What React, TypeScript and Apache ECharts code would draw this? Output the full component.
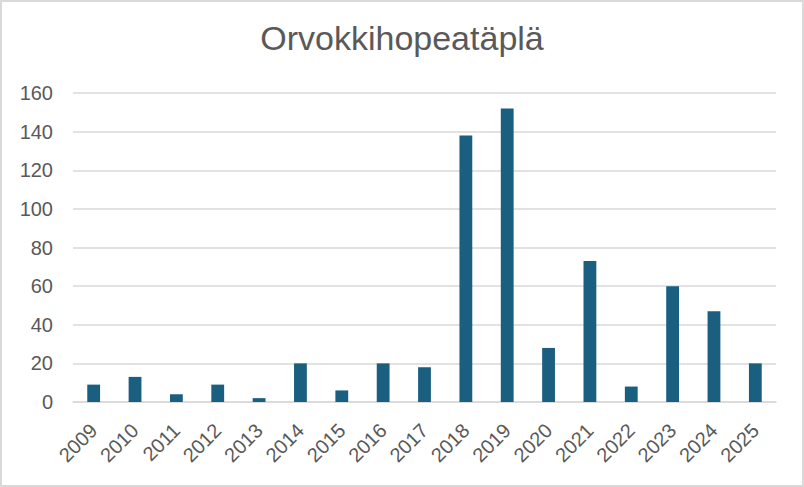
import React, { useEffect, useRef } from "react";
import * as echarts from "echarts";

const title = "Orvokkihopeatäplä";
const years = ["2009", "2010", "2011", "2012", "2013", "2014", "2015", "2016", "2017", "2018", "2019", "2020", "2021", "2022", "2023", "2024", "2025"];
const counts = [9, 13, 4, 9, 2, 20, 6, 20, 18, 138, 152, 28, 73, 8, 60, 47, 20];
const yTicks = { min: 0, max: 160, interval: 20 };

export default function App() {
  const ref = useRef<HTMLDivElement>(null);
  useEffect(() => {
    document.body.style.margin = "0";
    const chart = echarts.init(ref.current!, null, { renderer: "svg" });
    const font = "'Liberation Sans', Arial, sans-serif";
    chart.setOption({
      animation: false,
      backgroundColor: "#ffffff",
      title: {
        text: title,
        left: "center",
        top: 16,
        textStyle: { color: "#595959", fontSize: 34, fontWeight: "normal", fontFamily: font },
      },
      grid: { left: 73, right: 28, top: 93, bottom: 85, containLabel: false },
      xAxis: {
        type: "category",
        data: years,
        axisLine: { lineStyle: { color: "#d9d9d9", width: 1.5 } },
        axisTick: { show: false },
        axisLabel: { color: "#595959", fontSize: 20, fontFamily: font, rotate: 45, margin: 25, interval: 0 },
      },
      yAxis: {
        type: "value",
        min: yTicks.min,
        max: yTicks.max,
        interval: yTicks.interval,
        axisLine: { show: false },
        axisTick: { show: false },
        splitLine: { lineStyle: { color: "#d9d9d9", width: 1.5 } },
        axisLabel: { color: "#595959", fontSize: 20, fontFamily: font, margin: 20 },
      },
      series: [
        {
          type: "bar",
          data: counts,
          barWidth: "31%",
          itemStyle: { color: "#1a5f80" },
        },
      ],
    });
    return () => chart.dispose();
  }, []);
  return (
    <div style={{ position: "relative", width: 804, height: 487 }}>
      <div ref={ref} style={{ width: 804, height: 487 }} />
      <div
        style={{
          position: "absolute",
          left: 0,
          top: 0,
          width: 804,
          height: 487,
          boxSizing: "border-box",
          border: "2px solid #d9d9d9",
          pointerEvents: "none",
        }}
      />
    </div>
  );
}
